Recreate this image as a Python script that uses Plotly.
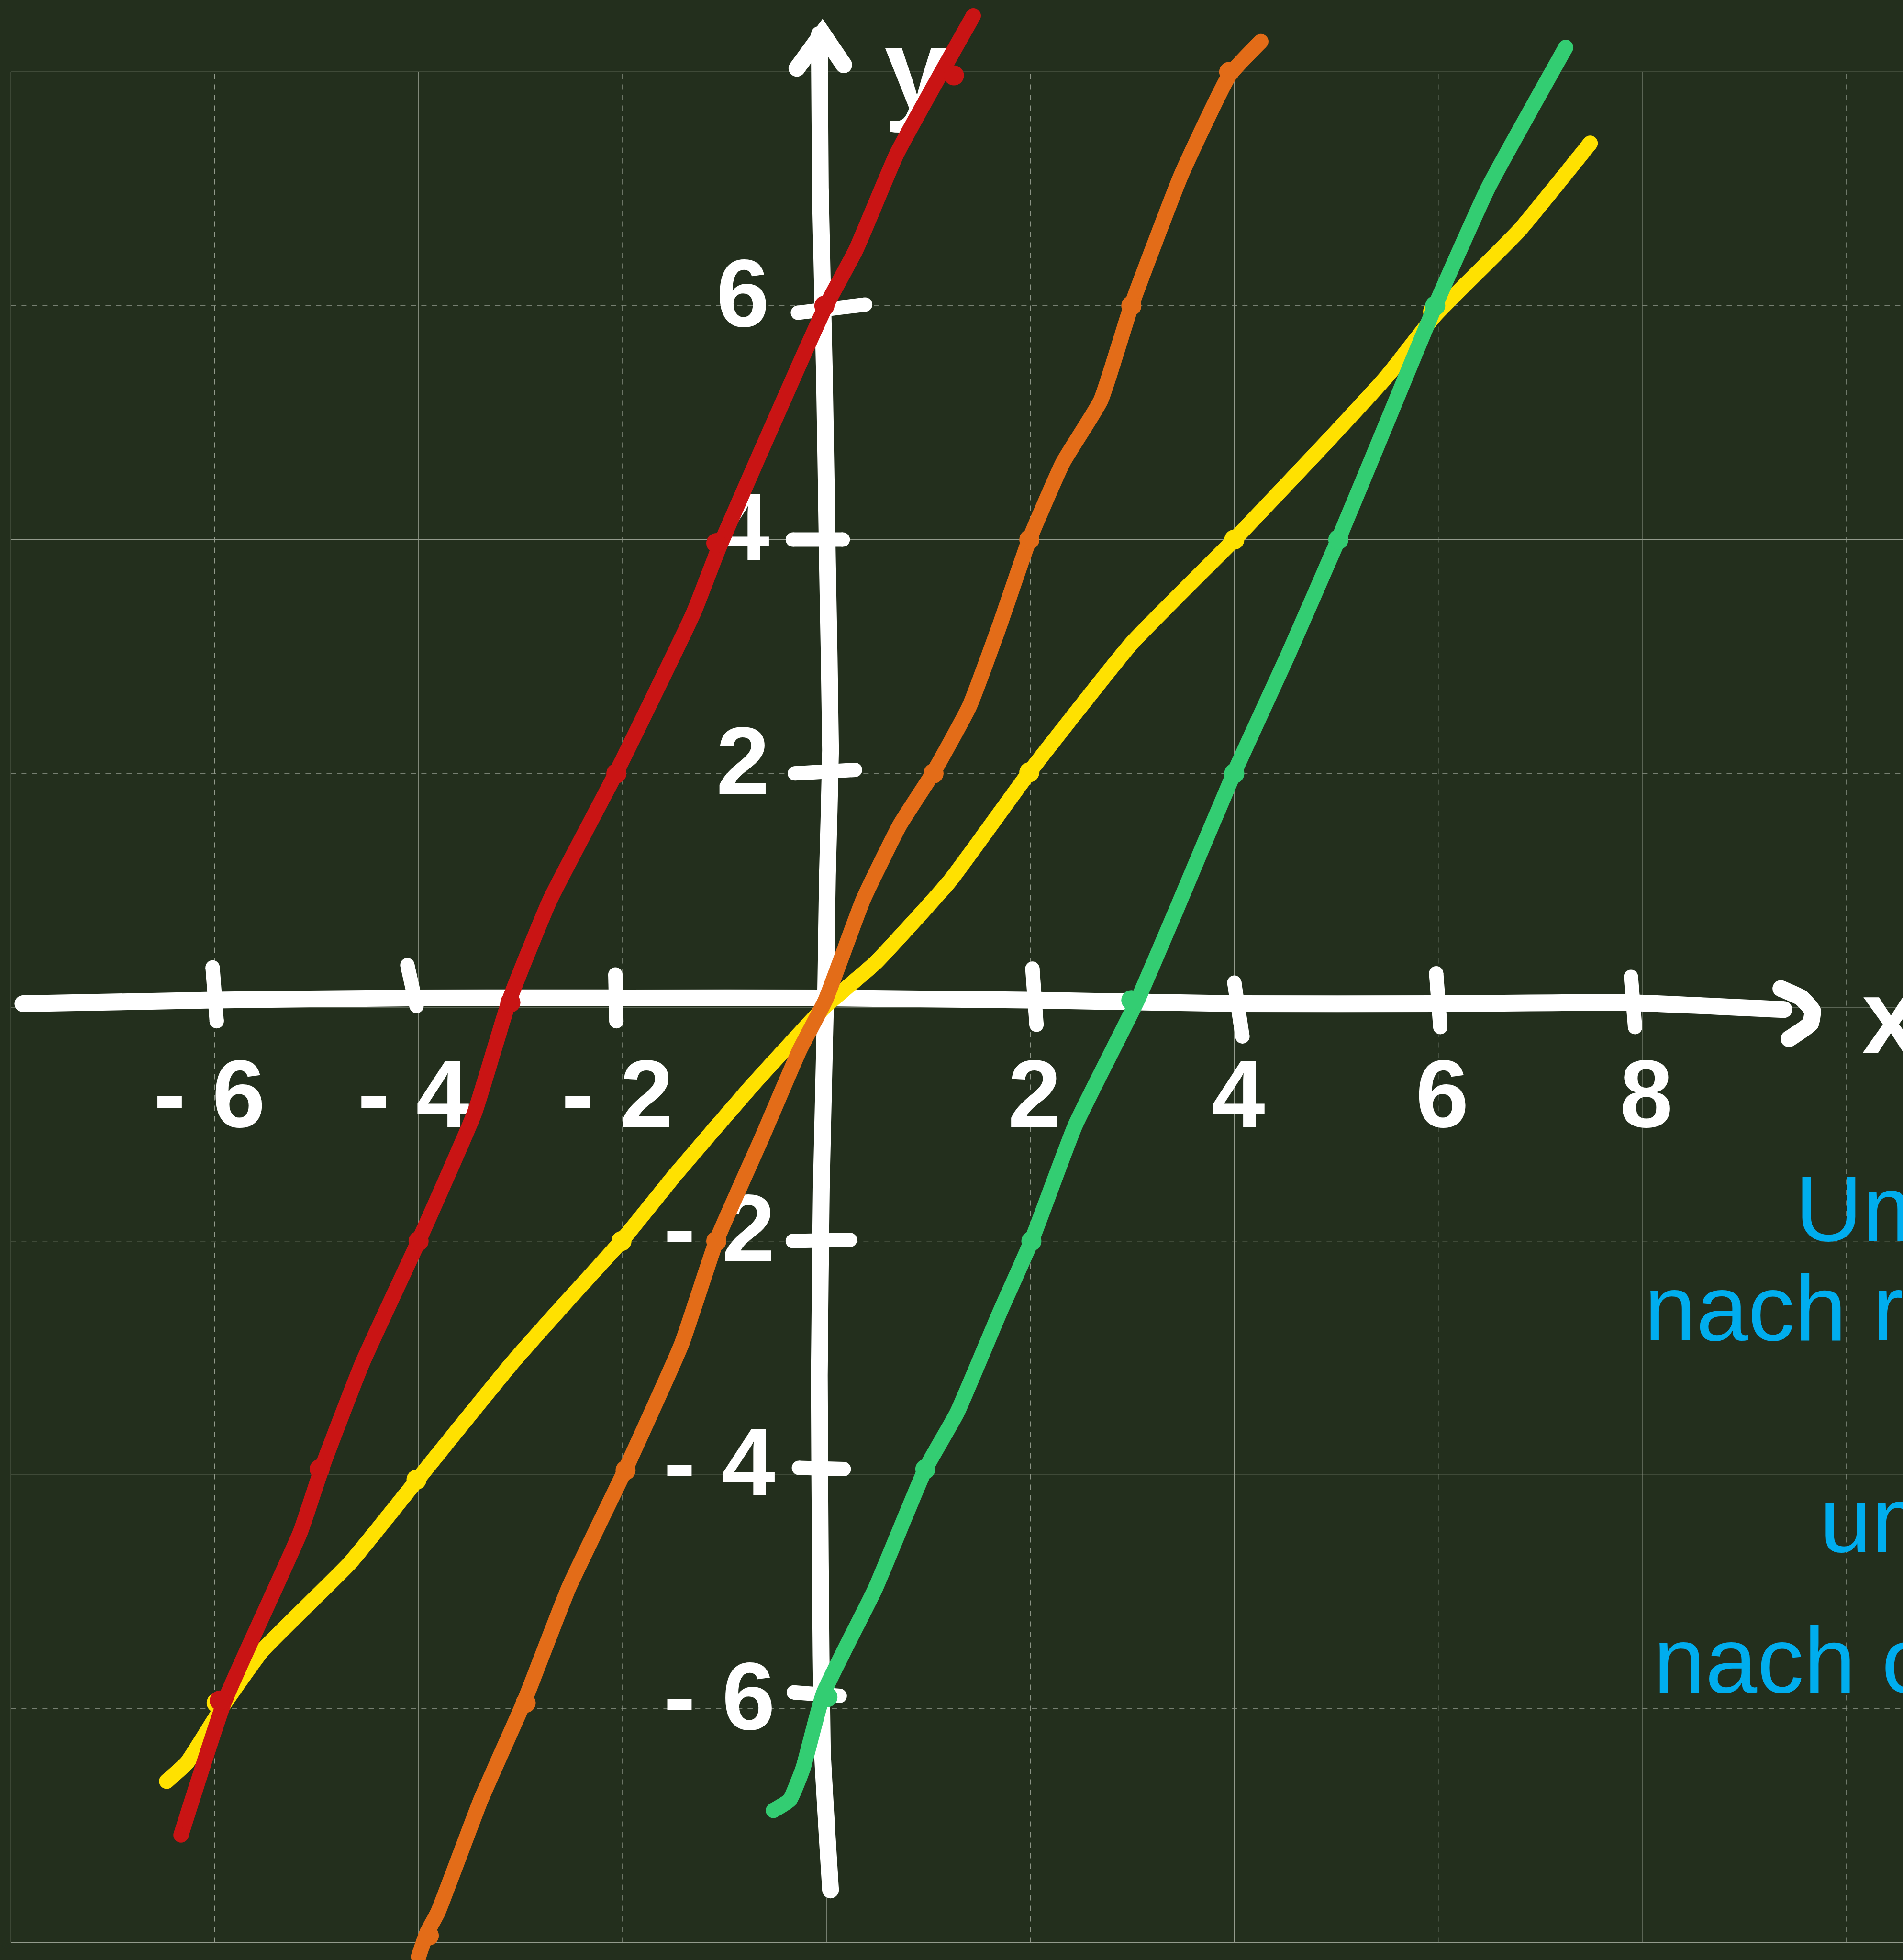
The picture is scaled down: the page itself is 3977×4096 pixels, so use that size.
import plotly.graph_objects as go

# ---- data -------------------------------------------------------------
# hand-drawn graphs (vertices along each pen stroke)
red_x = [-6.33, -5.90, -5.16, -4.94, -4.55, -4.00, -3.45, -3.11, -2.71, -2.06, -1.30, -1.05, -0.26, -0.01, 0.29, 0.69, 1.13, 1.44]
red_y = [-7.08, -5.93, -4.49, -3.92, -3.04, -2.00, -0.90, 0.06, 0.92, 2.01, 3.38, 3.94, 5.51, 5.99, 6.48, 7.30, 8.00, 8.48]

orange_x = [-4.00, -3.92, -3.81, -3.39, -2.96, -2.53, -1.97, -1.42, -1.08, -0.63, -0.26, -0.01, 0.36, 0.72, 1.05, 1.40, 1.70, 1.99, 2.32, 2.69, 2.99, 3.48, 3.95, 4.26]
orange_y = [-8.12, -7.92, -7.74, -6.78, -5.93, -4.97, -3.95, -2.88, -2.00, -1.11, -0.36, 0.06, 0.92, 1.56, 2.01, 2.57, 3.27, 4.00, 4.66, 5.19, 6.00, 7.12, 7.97, 8.26]

green_x = [-0.52, -0.36, -0.23, -0.03, 0.48, 0.97, 1.28, 1.70, 2.01, 2.44, 3.05, 3.42, 4.00, 4.52, 5.02, 5.51, 5.97, 6.49, 7.25]
green_y = [-6.87, -6.78, -6.51, -5.87, -4.97, -3.95, -3.47, -2.61, -2.00, -1.01, 0.06, 0.81, 2.01, 3.00, 4.00, 5.03, 6.00, 7.01, 8.21]

yellow_x = [-6.47, -6.27, -5.90, -5.53, -4.67, -4.02, -3.08, -2.53, -2.01, -1.48, -0.75, -0.01, 0.48, 1.21, 1.99, 2.99, 4.00, 4.89, 5.51, 5.97, 6.79, 7.49]
yellow_y = [-6.62, -6.46, -5.95, -5.50, -4.75, -4.05, -3.04, -2.50, -2.00, -1.43, -0.69, 0.01, 0.38, 1.08, 2.01, 3.11, 4.00, 4.82, 5.41, 5.92, 6.64, 7.39]

# plotted points marked on each graph
red_pts_x = [-5.95, -4.97, -4.00, -3.10, -2.06, -1.08, -0.02, 1.25]
red_pts_y = [-5.93, -3.95, -2.00, 0.04, 2.00, 3.97, 6.00, 7.97]
orange_pts_x = [-3.90, -2.95, -1.97, -1.08, 1.05, 1.99, 2.99, 3.95]
orange_pts_y = [-7.94, -5.95, -3.96, -2.00, 2.00, 4.00, 6.00, 8.00]
green_pts_x = [0.01, 0.97, 2.01, 2.99, 4.00, 5.02, 5.97]
green_pts_y = [-5.90, -3.95, -2.00, 0.06, 2.00, 4.00, 6.00]
yellow_pts_x = [-5.98, -4.02, -2.01, 1.99, 4.00, 5.95]
yellow_pts_y = [-5.95, -4.04, -2.00, 2.01, 4.00, 5.95]

# hand-drawn coordinate axes
xaxis_x = [-7.88, -6.08, -4.06, -1.97, -0.01, 2.07, 4.03, 6.00, 7.84, 9.39]
xaxis_y = [0.03, 0.06, 0.08, 0.08, 0.08, 0.06, 0.03, 0.03, 0.04, -0.02]
xarrow_x = [9.36, 9.56, 9.67, 9.65, 9.44]
xarrow_y = [0.16, 0.08, -0.03, -0.14, -0.27]

yaxis_x = [0.04, -0.04, -0.06, -0.07, -0.05, -0.01, 0.01, 0.04, 0.01, -0.02, -0.06, -0.07]
yaxis_y = [-7.55, -6.35, -4.75, -3.15, -1.54, 0.01, 1.13, 2.20, 3.80, 5.41, 7.01, 8.32]
yarrow_x = [-0.29, -0.04, 0.17]
yarrow_y = [8.03, 8.33, 8.06]

# tick marks: (x0, y0, x1, y1)
x_ticks = [-6, -4, -2, 2, 4, 6, 8]
x_tick_marks = [(-6.02, 0.34, -5.98, -0.12), (-4.11, 0.36, -4.02, 0.01), (-2.07, 0.28, -2.06, -0.12),
                (2.02, 0.33, 2.06, -0.15), (4.00, 0.21, 4.08, -0.25), (5.98, 0.29, 6.02, -0.17),
                (7.89, 0.26, 7.93, -0.17)]
x_tick_text = ["- 6", "- 4", "- 2", "2", "4", "6", "8"]

y_ticks = [6, 4, 2, -2, -4, -6]
y_tick_marks = [(-0.28, 5.94, 0.38, 6.01), (-0.33, 4.00, 0.16, 4.00), (-0.31, 2.00, 0.28, 2.03),
                (-0.33, -2.00, 0.23, -1.99), (-0.27, -3.94, 0.17, -3.95), (-0.32, -5.86, 0.13, -5.89)]
y_tick_text = ["6", "4", "2", "- 2", "- 4", "- 6"]

notes = ["Um 3", "nach rechts", "um 6", "nach oben"]

# ---- styling ------------------------------------------------------------
W, H = 3977, 4096
X_RANGE = [-8.105, 10.558]
Y_RANGE = [-8.149, 8.615]
BG = "#232f1d"
GRID = "#939b8d"
WHITE = "#ffffff"
RED, ORANGE, GREEN, YELLOW, BLUE = "#c91414", "#e36c18", "#33cd72", "#ffe100", "#00adee"
HAND_FONT = "Liberation Sans, Arial, sans-serif"
PEN = 32
CHALK = 35

fig = go.Figure()

# grid: solid every 4 units, dashed in between, framed at +-8
for gx in range(-8, 11, 2):
    fig.add_shape(type="line", x0=gx, x1=gx, y0=-8, y1=8, layer="below",
                  line=dict(color=GRID, width=1.2, dash="solid" if gx % 4 == 0 else "11px,11px"))
for gy in range(-8, 9, 2):
    fig.add_shape(type="line", x0=-8, x1=12, y0=gy, y1=gy, layer="below",
                  line=dict(color=GRID, width=1.2, dash="solid" if gy % 4 == 0 else "11px,11px"))


def stroke(xs, ys, color, width, smooth=True, round_all=False):
    fig.add_trace(go.Scatter(
        x=xs, y=ys, mode="lines", hoverinfo="skip",
        line=dict(color=color, width=width, shape="spline" if smooth else "linear", smoothing=0.4)))
    cx = xs if round_all else [xs[0], xs[-1]]
    cy = ys if round_all else [ys[0], ys[-1]]
    fig.add_trace(go.Scatter(x=cx, y=cy, mode="markers", hoverinfo="skip",
                             marker=dict(color=color, size=width, line=dict(width=0))))


def write(x, y, text, size, color, pos="middle center", bold=True):
    fig.add_trace(go.Scatter(
        x=[x], y=[y], mode="text", text=[text], textposition=pos, hoverinfo="skip",
        textfont=dict(family=HAND_FONT, size=size, color=color,
                      weight="bold" if bold else "normal")))


# axes in white chalk
stroke(xaxis_x, xaxis_y, WHITE, CHALK)
stroke(xarrow_x, xarrow_y, WHITE, CHALK, round_all=True)
stroke(yaxis_x, yaxis_y, WHITE, CHALK)
stroke(yarrow_x, yarrow_y, WHITE, CHALK, smooth=False, round_all=True)
for (x0, y0, x1, y1) in x_tick_marks + y_tick_marks:
    stroke([x0, x1], [y0, y1], WHITE, 30, smooth=False)

# axis numbers and names
for v, t in zip(x_ticks, x_tick_text):
    write(v + (-0.05 if v < 0 else 0.04), -0.82, t, 200, WHITE)
for v, t in zip(y_ticks, y_tick_text):
    write(-0.82 if v > 0 else -1.05, v + 0.03, t, 200, WHITE)
write(0.88, 7.93, "y", 240, WHITE)
write(10.44, -0.17, "x", 220, WHITE)

# the four graphs
for xs, ys, px, py, col in [
    (yellow_x, yellow_y, yellow_pts_x, yellow_pts_y, YELLOW),
    (orange_x, orange_y, orange_pts_x, orange_pts_y, ORANGE),
    (red_x, red_y, red_pts_x, red_pts_y, RED),
    (green_x, green_y, green_pts_x, green_pts_y, GREEN),
]:
    stroke(xs, ys, col, PEN)
    fig.add_trace(go.Scatter(x=px, y=py, mode="markers", hoverinfo="skip",
                             marker=dict(color=col, size=PEN + 10, line=dict(width=0))))

# notes on the right
write(9.50, -1.80, notes[0], 195, BLUE, pos="middle right", bold=False)
write(8.02, -2.65, notes[1], 195, BLUE, pos="middle right", bold=False)
write(9.74, -4.46, notes[2], 195, BLUE, pos="middle right", bold=False)
write(8.11, -5.66, notes[3], 195, BLUE, pos="middle right", bold=False)

fig.update_layout(
    width=W, height=H, margin=dict(l=0, r=0, t=0, b=0, pad=0),
    paper_bgcolor=BG, plot_bgcolor=BG, showlegend=False,
    xaxis=dict(range=X_RANGE, visible=False, fixedrange=True),
    yaxis=dict(range=Y_RANGE, visible=False, fixedrange=True),
)

fig.write_html("out.html")
